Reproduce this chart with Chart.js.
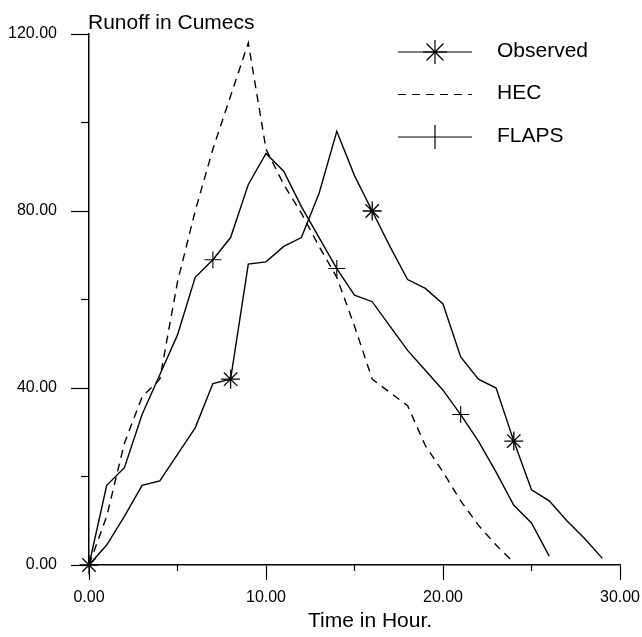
<!DOCTYPE html>
<html>
<head>
<meta charset="utf-8">
<title>Runoff hydrograph</title>
<script src="https://cdn.jsdelivr.net/npm/chart.js@4.4.1/dist/chart.umd.min.js"></script>
<style>
  html, body { margin: 0; padding: 0; background: #fff; }
</style>
</head>
<body>
<canvas id="graph" width="642" height="637"></canvas>
<script>
// time axis (hours) and runoff in cumecs
var hours    = [0, 1, 2, 3, 4, 5, 6, 7, 8, 9, 10, 11, 12, 13, 14, 15, 16, 17, 18, 19, 20, 21, 22, 23, 24, 25, 26, 27, 28, 29];
var observed = [0, 4.5, 11, 18, 19, 25, 31, 41, 42, 68, 68.5, 72, 74, 84, 98, 88, 80, 72, 64.5, 62.5, 59, 47, 42, 40, 28, 17, 14.5, 10, 6, 1.5];
var hec      = [0, 11, 27.5, 38, 42, 64, 80, 94, 106, 118, 94, 86, 79.5, 72, 65, 54, 42, 39, 36, 27, 21, 14.5, 9, 4.5, 0.5];
var flaps    = [0, 18, 22, 34, 43, 52, 65, 69, 74, 86, 93, 89, 81, 74, 67, 61, 59.5, 54, 48.5, 44, 39.5, 34, 28, 21, 13.5, 9.5, 2];

var seriesNames = ['Observed', 'HEC', 'FLAPS'];
var xMajor = [0, 10, 20, 30];
var xMinor = [5, 15, 25];
var yMajor = [0, 40, 80, 120];
var yMinor = [20, 60, 100];

function points(values) {
    return values.map(function (v, i) { return { x: hours[i], y: v }; });
}

/* extra bits the old plotter had: short minor ticks, titles, legend */
var decor = {
    id: 'decor',
    afterDraw: function (chart) {
        var ctx = chart.ctx;
        var xs = chart.scales.x, ys = chart.scales.y;
        var area = chart.chartArea;

        function seg(x1, y1, x2, y2) {
            ctx.beginPath(); ctx.moveTo(x1, y1); ctx.lineTo(x2, y2); ctx.stroke();
        }

        ctx.save();
        ctx.strokeStyle = '#000';
        ctx.fillStyle = '#000';
        ctx.lineWidth = 1.2;

        xMinor.forEach(function (v) {
            var px = xs.getPixelForValue(v);
            seg(px, area.bottom, px, area.bottom + 6);
        });
        yMinor.forEach(function (v) {
            var py = ys.getPixelForValue(v);
            seg(area.left - 8, py, area.left, py);
        });

        ctx.font = '21px "Liberation Sans"';
        ctx.textBaseline = 'alphabetic';
        ctx.textAlign = 'left';
        ctx.fillText('Runoff in Cumecs', area.left - 1, 29);
        ctx.fillText('Time in Hour.', 308, 627);

        // legend
        var lx1 = 398, lx2 = 472, lmid = 435, tx = 497;
        chart.data.datasets.forEach(function (ds, i) {
            var ly = 52 + i * 42.5;
            ctx.lineWidth = 1.2;
            ctx.setLineDash(ds.borderDash || []);
            seg(lx1, ly, lx2, ly);
            ctx.setLineDash([]);
            var r = 12;
            if (ds.pointStyle === 'star') {
                seg(lmid - r, ly, lmid + r, ly);
                seg(lmid, ly - r, lmid, ly + r);
                var d = r * Math.SQRT1_2;
                seg(lmid - d, ly - d, lmid + d, ly + d);
                seg(lmid - d, ly + d, lmid + d, ly - d);
            } else if (ds.pointStyle === 'cross') {
                seg(lmid, ly - r, lmid, ly + r);
            }
            ctx.textBaseline = 'middle';
            ctx.fillText(ds.label, tx, ly - 1);
        });
        ctx.restore();
    }
};

var tickFont = { family: 'Liberation Sans', size: 16 };

new Chart(document.getElementById('graph'), {
    type: 'line',
    data: {
        datasets: [
            {
                label: seriesNames[0],
                data: points(observed),
                borderColor: '#000',
                borderWidth: 1.4,
                pointStyle: 'star',
                pointRadius: function (c) { return c.dataIndex % 8 === 0 ? 9.5 : 0; },
                pointBorderColor: '#000',
                pointBorderWidth: 1.3,
                clip: false
            },
            {
                label: seriesNames[1],
                data: points(hec),
                borderColor: '#000',
                borderWidth: 1.4,
                borderDash: [8, 6],
                pointRadius: 0,
                clip: false
            },
            {
                label: seriesNames[2],
                data: points(flaps),
                borderColor: '#000',
                borderWidth: 1.4,
                pointStyle: 'cross',
                pointRadius: function (c) { return (c.dataIndex > 0 && c.dataIndex % 7 === 0) ? 8.5 : 0; },
                pointBorderColor: '#000',
                pointBorderWidth: 1.1,
                clip: false
            }
        ]
    },
    options: {
        responsive: false,
        devicePixelRatio: 1,
        animation: false,
        events: [],
        layout: { padding: { top: 34, right: 22, bottom: 0, left: 0 } },
        elements: { line: { tension: 0, fill: false } },
        plugins: { legend: { display: false }, tooltip: { enabled: false } },
        scales: {
            x: {
                type: 'linear',
                min: 0,
                max: 30,
                afterFit: function (s) { s.height = 72; s.paddingLeft = 0; s.paddingRight = 0; },
                ticks: {
                    stepSize: 5,
                    autoSkip: false,
                    maxRotation: 0,
                    padding: 8,
                    color: '#000',
                    font: tickFont,
                    callback: function (v) { return xMajor.indexOf(v) >= 0 ? v.toFixed(2) : ''; }
                },
                grid: {
                    drawOnChartArea: false,
                    tickLength: 15,
                    tickWidth: 1.2,
                    tickColor: function (c) { return (c.tick && xMajor.indexOf(c.tick.value) >= 0) ? '#000' : 'rgba(0,0,0,0)'; }
                },
                border: { display: true, color: '#000', width: 1.5 }
            },
            y: {
                type: 'linear',
                min: 0,
                max: 120,
                afterFit: function (s) { s.width = 89; },
                ticks: {
                    stepSize: 20,
                    autoSkip: false,
                    padding: 14,
                    color: '#000',
                    font: tickFont,
                    callback: function (v) { return yMajor.indexOf(v) >= 0 ? v.toFixed(2) : ''; }
                },
                grid: {
                    drawOnChartArea: false,
                    tickLength: 18,
                    tickWidth: 1.2,
                    tickColor: function (c) { return (c.tick && yMajor.indexOf(c.tick.value) >= 0) ? '#000' : 'rgba(0,0,0,0)'; }
                },
                border: { display: true, color: '#000', width: 1.5 }
            }
        }
    },
    plugins: [decor]
});
</script>
</body>
</html>
